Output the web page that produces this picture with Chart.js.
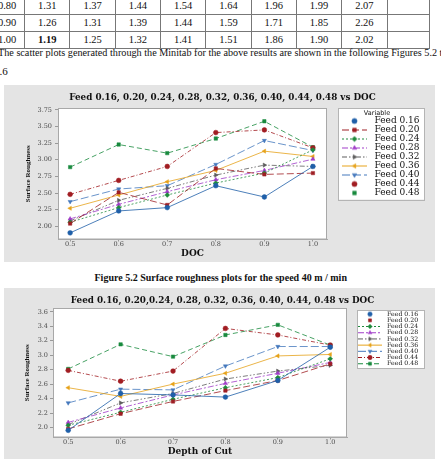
<!DOCTYPE html>
<html>
<head>
<meta charset="utf-8">
<script src="https://cdn.jsdelivr.net/npm/chart.js@4.4.0/dist/chart.umd.min.js"></script>
<style>
  body { margin: 0; width: 441px; height: 459px; overflow: hidden; background: #fff; position: relative;
         font-family: "Liberation Serif", "Times New Roman", serif; color: #111; }
  #tbl { position: absolute; left: -11px; top: -3px; border-collapse: collapse; table-layout: fixed; font-size: 10.5px; }
  #tbl td { border: 1px solid #777; padding: 0; text-align: center; width: 49px; height: 16px; line-height: 1; }
  #tbl td:first-child { width: 37px; }
  .txt { position: absolute; white-space: nowrap; font-size: 11px; transform-origin: 0 0; }
  .frame { position: absolute; left: 4px; width: 431px; height: 177px; background: #e4e4e4; }
  .cap { position: absolute; left: 0; width: 441px; text-align: center; font-weight: bold; font-size: 11px; white-space: nowrap; }
</style>
</head>
<body>
<table id="tbl"></table>
<div class="txt" style="left:-2px;top:46px;transform:scaleX(0.926)">The scatter plots generated through the Minitab for the above results are shown in the following Figures 5.2 to</div>
<div class="txt" style="left:-6px;top:65px">5.6</div>
<div class="frame" style="top:85px"><canvas id="chart1" width="431" height="177"></canvas></div>
<div class="cap" style="top:271px"><span style="display:inline-block;transform:scaleX(0.91)">Figure 5.2 Surface roughness plots for the speed 40 m / min</span></div>
<div class="frame" style="top:288px"><canvas id="chart2" width="431" height="177"></canvas></div>
<script>
// table rows visible above the text (DOC, then feed columns)
const tableRows = [
  ["0.80", "1.31", "1.37", "1.44", "1.54", "1.64", "1.96", "1.99", "2.07", ""],
  ["0.90", "1.26", "1.31", "1.39", "1.44", "1.59", "1.71", "1.85", "2.26", ""],
  ["1.00", "1.19", "1.25", "1.32", "1.41", "1.51", "1.86", "1.90", "2.02", ""]
];

const docValues = [0.5, 0.6, 0.7, 0.8, 0.9, 1.0];
const xTickLabels = ["0.5", "0.6", "0.7", "0.8", "0.9", "1.0"];
const feedLabels = ["Feed 0.16", "Feed 0.20", "Feed 0.24", "Feed 0.28", "Feed 0.32",
                    "Feed 0.36", "Feed 0.40", "Feed 0.44", "Feed 0.48"];

// Figure 5.2, speed 40 m/min
const title1 = "Feed 0.16, 0.20, 0.24, 0.28, 0.32, 0.36, 0.40, 0.44, 0.48 vs DOC";
const yTickLabels1 = ["2.00", "2.25", "2.50", "2.75", "3.00", "3.25", "3.50", "3.75"];
const feed016a = [1.90, 2.23, 2.28, 2.61, 2.44, 2.90];
const feed020a = [2.04, 2.51, 2.32, 2.87, 2.78, 2.80];
const feed024a = [2.06, 2.28, 2.47, 2.65, 2.80, 3.15];
const feed028a = [2.11, 2.33, 2.52, 2.70, 2.84, 3.01];
const feed032a = [2.08, 2.39, 2.57, 2.77, 2.92, 2.90];
const feed036a = [2.27, 2.47, 2.67, 2.84, 3.13, 3.05];
const feed040a = [2.37, 2.56, 2.61, 2.93, 3.29, 3.14];
const feed044a = [2.48, 2.69, 2.90, 3.41, 3.45, 3.18];
const feed048a = [2.89, 3.23, 3.10, 3.32, 3.58, 3.19];

// next figure
const title2 = "Feed 0.16, 0.20,0.24, 0.28, 0.32, 0.36, 0.40, 0.44, 0.48 vs DOC";
const yTickLabels2 = ["2.0", "2.2", "2.4", "2.6", "2.8", "3.0", "3.2", "3.4", "3.6"];
const feed016b = [1.96, 2.47, 2.45, 2.42, 2.65, 3.11];
const feed020b = [1.98, 2.19, 2.36, 2.51, 2.65, 2.88];
const feed024b = [2.03, 2.21, 2.39, 2.55, 2.69, 2.95];
const feed028b = [2.07, 2.27, 2.45, 2.61, 2.75, 2.90];
const feed032b = [2.04, 2.34, 2.47, 2.67, 2.78, 2.86];
const feed036b = [2.55, 2.43, 2.60, 2.75, 2.99, 3.01];
const feed040b = [2.34, 2.53, 2.52, 2.85, 3.12, 3.12];
const feed044b = [2.79, 2.64, 2.78, 3.37, 3.28, 3.14];
const feed048b = [2.81, 3.15, 2.98, 3.28, 3.42, 3.14];

// minitab-ish series styles
const seriesColors = ["#1f5fa8", "#9e1f24", "#1f8a3c", "#a03cc8", "#5c5c5c", "#e6a21a", "#4478bd", "#a11d22", "#198a3e"];
const seriesMarkers = ["circle", "rect", "rectRot", "triangle", "triangle", "triangle", "triangle", "circle", "rect"];
const markerRotation = [0, 0, 0, 0, 90, -90, 180, 0, 0];
const seriesDash = [[], [7, 3], [2, 2], [6, 2, 2, 2], [5, 2, 1.5, 2, 1.5, 2], [], [8, 3], [4, 2, 1, 2], [5, 3]];
const legendLine1 = [false, true, true, true, true, true, true, false, false];
const legendLine2 = [false, false, true, true, true, true, true, true, true];

const tbl = document.getElementById("tbl");
tableRows.forEach((row, r) => {
  const tr = document.createElement("tr");
  row.forEach((cell, c) => {
    const td = document.createElement("td");
    td.textContent = cell;
    if (r === 2 && c === 1) td.style.fontWeight = "bold";
    tr.appendChild(td);
  });
  tbl.appendChild(tr);
});

function makeIcon(i, w, h, from, to, withLine, r) {
  const c = document.createElement("canvas");
  c.width = w;
  c.height = h;
  const g = c.getContext("2d");
  if (withLine) {
    g.strokeStyle = seriesColors[i];
    g.lineWidth = 1;
    g.setLineDash(seriesDash[i]);
    g.beginPath();
    g.moveTo(from, h / 2);
    g.lineTo(to, h / 2);
    g.stroke();
    g.setLineDash([]);
  }
  g.fillStyle = seriesColors[i];
  g.strokeStyle = seriesColors[i];
  g.lineWidth = 0.5;
  Chart.helpers.drawPoint(g, { pointStyle: seriesMarkers[i], rotation: markerRotation[i], radius: r, borderWidth: 0.5 },
    (from + to) / 2, h / 2);
  return c;
}

const framePlugin = {
  id: "frame",
  beforeDraw(chart, args, opts) {
    const { ctx, chartArea: a } = chart;
    ctx.save();
    ctx.fillStyle = "#ffffff";
    ctx.fillRect(a.left, a.top, a.width, a.height);
    ctx.strokeStyle = "#a8a8a8";
    ctx.lineWidth = 1;
    ctx.strokeRect(a.left + 0.5, a.top + 0.5, a.width - 1, a.height - 1);
    const lg = chart.legend;
    const hb = lg.legendHitBoxes;
    const last = hb[hb.length - 1];
    const x0 = lg.left + opts.boxLeft;
    const x1 = lg.left + opts.boxRight;
    const y0 = lg.top + opts.boxTop;
    const y1 = last.top + last.height + opts.boxBottom;
    ctx.fillRect(x0, y0, x1 - x0, y1 - y0);
    ctx.strokeStyle = "#b4b4b4";
    ctx.strokeRect(Math.round(x0) + 0.5, Math.round(y0) + 0.5, Math.round(x1 - x0), Math.round(y1 - y0));
    ctx.restore();
  }
};

function buildChart(id, cfg) {
  const datasets = cfg.series.map((vals, i) => ({
    label: feedLabels[i],
    data: vals.map((v, k) => ({ x: docValues[k], y: v })),
    showLine: true,
    borderColor: seriesColors[i],
    backgroundColor: seriesColors[i],
    borderWidth: 0.8,
    borderDash: seriesDash[i],
    pointStyle: seriesMarkers[i],
    pointRotation: markerRotation[i],
    pointRadius: cfg.pointRadius,
    pointBorderWidth: 0.5
  }));
  const icons = cfg.series.map((v, i) =>
    makeIcon(i, cfg.iconW, 9, cfg.lineFrom, cfg.lineTo, cfg.legendLine[i], cfg.iconR));

  return new Chart(document.getElementById(id), {
    type: "scatter",
    data: { datasets },
    plugins: [framePlugin],
    options: {
      responsive: false,
      animation: false,
      devicePixelRatio: 1,
      layout: { padding: cfg.padding },
      plugins: {
        frame: cfg.box,
        tooltip: { enabled: false },
        title: {
          display: true,
          text: cfg.title,
          color: "#111",
          font: { family: "DejaVu Serif", size: 8.8, weight: "bold", lineHeight: 1 },
          padding: cfg.titlePad
        },
        legend: {
          position: "right",
          align: "start",
          fullSize: false,
          maxWidth: cfg.legendW,
          title: cfg.legendTitle,
          labels: {
            usePointStyle: true,
            pointStyleWidth: cfg.iconW,
            padding: 0,
            color: "#111",
            font: { family: "DejaVu Serif", size: cfg.legendFont },
            generateLabels: (chart) => chart.data.datasets.map((ds, i) => ({
              text: ds.label,
              pointStyle: icons[i],
              rotation: 0,
              datasetIndex: i,
              hidden: false,
              lineWidth: 0,
              fillStyle: "transparent",
              strokeStyle: "transparent",
              fontColor: "#111"
            }))
          }
        }
      },
      scales: {
        x: {
          type: "linear",
          min: cfg.xMin,
          max: cfg.xMax,
          afterBuildTicks: (s) => { s.ticks = xTickLabels.map((t) => ({ value: parseFloat(t) })); },
          ticks: {
            callback: (v, i) => xTickLabels[i],
            color: "#4a4a4a",
            padding: 0,
            font: { family: "DejaVu Serif", size: 6.5, lineHeight: 1 }
          },
          grid: { drawOnChartArea: false, tickLength: 2, color: "#999" },
          border: { color: "#a8a8a8" },
          title: {
            display: true,
            text: cfg.xTitle,
            color: "#111",
            font: { family: "DejaVu Serif", size: 9, weight: "bold" },
            padding: { top: cfg.xTitleTop, bottom: 2 }
          }
        },
        y: {
          min: cfg.yMin,
          max: cfg.yMax,
          afterFit: (s) => { s.width = cfg.yWidth; },
          afterBuildTicks: (s) => { s.ticks = cfg.yTicks.map((t) => ({ value: parseFloat(t) })); },
          ticks: {
            callback: (v, i) => cfg.yTicks[i],
            color: "#4a4a4a",
            padding: cfg.yTickPad,
            font: { family: "DejaVu Serif", size: 6.5 }
          },
          grid: { drawOnChartArea: false, tickLength: 3, color: "#999" },
          border: { color: "#a8a8a8" },
          title: {
            display: true,
            text: "Surface Roughness",
            color: "#111",
            font: { family: "Liberation Serif", size: 7, weight: "bold" },
            padding: { top: cfg.yTitleTop, bottom: 0 }
          }
        }
      }
    }
  });
}

buildChart("chart1", {
  series: [feed016a, feed020a, feed024a, feed028a, feed032a, feed036a, feed040a, feed044a, feed048a],
  title: title1,
  titlePad: { top: 8, bottom: 6.2 },
  padding: { left: 14, right: 8, top: 0, bottom: 0.6 },
  xMin: 0.475, xMax: 1.029, yMin: 1.80, yMax: 3.78,
  yTicks: yTickLabels1, yWidth: 40, yTickPad: 3, yTitleTop: 5.8,
  xTitle: "DOC", xTitleTop: 0.6,
  pointRadius: 2.4,
  legendW: 100, legendFont: 9, iconW: 43, lineFrom: 15, lineTo: 40, iconR: 2.6,
  legendLine: legendLine1,
  legendTitle: { display: true, text: "Variable", color: "#111",
                 font: { family: "DejaVu Sans", size: 6.5, lineHeight: 1 }, padding: { top: 2, bottom: 0 } },
  box: { boxLeft: 11, boxRight: 97, boxTop: 0, boxBottom: 2 }
});

buildChart("chart2", {
  series: [feed016b, feed020b, feed024b, feed028b, feed032b, feed036b, feed040b, feed044b, feed048b],
  title: title2,
  titlePad: { top: 8, bottom: 3.2 },
  padding: { left: 14, right: 8, top: 0, bottom: 6.2 },
  xMin: 0.471, xMax: 1.032, yMin: 1.861, yMax: 3.653,
  yTicks: yTickLabels2, yWidth: 35, yTickPad: 2, yTitleTop: 5.3,
  xTitle: "Depth of Cut", xTitleTop: 0,
  pointRadius: 2.4,
  legendW: 80, legendFont: 6.2, iconW: 37, lineFrom: 11, lineTo: 35, iconR: 2.2,
  legendLine: legendLine2,
  legendTitle: { display: true, text: "", font: { size: 1, lineHeight: 1 }, padding: { top: 2, bottom: 0 } },
  box: { boxLeft: 10, boxRight: 77, boxTop: 2, boxBottom: 1.5 }
});
</script>
</body>
</html>
